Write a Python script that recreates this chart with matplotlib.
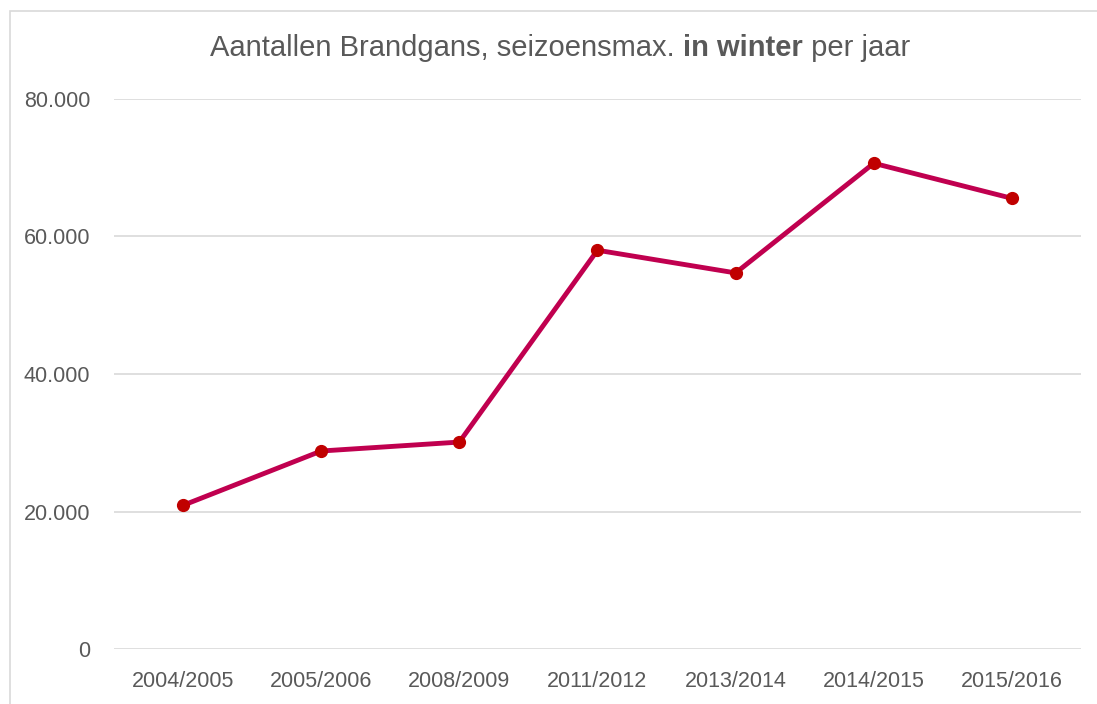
import matplotlib
matplotlib.use('Agg')
import matplotlib.pyplot as plt
from matplotlib.patches import Rectangle
from matplotlib.ticker import FuncFormatter

seasons = ['2004/2005', '2005/2006', '2008/2009', '2011/2012',
           '2013/2014', '2014/2015', '2015/2016']
counts = [20900, 28800, 30100, 58000, 54700, 70650, 65550]

plt.rcParams['font.family'] = ['Liberation Sans', 'DejaVu Sans']

fig = plt.figure(figsize=(10.97, 7.04), dpi=100)
ax = fig.add_axes([0.1039, 0.0781, 0.8815, 0.7813])

# light chart frame
fig.patches.append(Rectangle((10 / 1097, -0.1), 1.2, 1.1 - 11 / 704, transform=fig.transFigure,
                             fill=False, edgecolor='#d9d9d9', linewidth=1.2))

x = range(len(seasons))
ax.plot(x, counts, color='#c0004f', linewidth=3.5, zorder=3,
        marker='o', markersize=8.5, markerfacecolor='#c00000', markeredgecolor='#c00000')

ax.set_xlim(-0.5, len(seasons) - 0.5)
ax.set_ylim(0, 80000)
ax.set_yticks([0, 20000, 40000, 60000, 80000])
ax.yaxis.set_major_formatter(FuncFormatter(lambda v, p: '{:,.0f}'.format(v).replace(',', '.')))
ax.set_xticks(list(x))
ax.set_xticklabels(seasons)
ax.tick_params(axis='both', length=0, labelsize=15.5, labelcolor='#595959')
ax.tick_params(axis='x', pad=16)
ax.tick_params(axis='y', pad=17)
ax.grid(axis='y', color='#d9d9d9', linewidth=1.2)
ax.set_axisbelow(True)
for s in ax.spines.values():
    s.set_visible(False)

# title with bold middle part
parts = [('Aantallen Brandgans, seizoensmax. ', 'normal'), ('in winter', 'bold'), (' per jaar', 'normal')]
fig.canvas.draw()
r = fig.canvas.get_renderer()
texts = []
for s, w in parts:
    texts.append(fig.text(0, 1 - 48 / 704, s, fontsize=21, fontweight=w, color='#595959',
                          va='center', ha='left'))
widths = [t.get_window_extent(r).width for t in texts]
total = sum(widths)
x0 = 560 - total / 2
for t, w in zip(texts, widths):
    t.set_x(x0 / 1097)
    x0 += w

fig.savefig('out.png', dpi=100)
